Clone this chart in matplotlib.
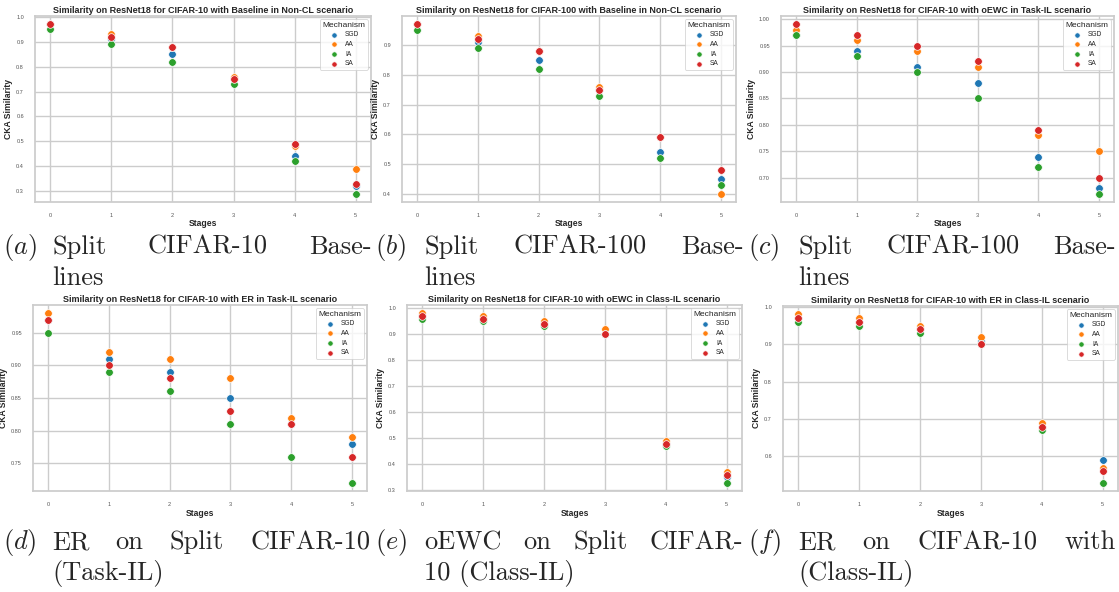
import matplotlib
matplotlib.use("Agg")
import matplotlib.pyplot as plt
import seaborn as sns

sns.set_theme(style="whitegrid")
plt.rcParams['font.family'] = ['Liberation Sans', 'DejaVu Sans']
plt.rcParams['mathtext.fontset'] = 'cm'

stages = [0, 1, 2, 3, 4, 5]
mechanisms = ["SGD", "AA", "IA", "SA"]
colors = ["#1f77b4", "#ff7f0e", "#2ca02c", "#d62728"]

# (a) CIFAR-10, baseline, Non-CL
a_sgd = [0.97, 0.91, 0.85, 0.75, 0.44, 0.32]
a_aa = [0.97, 0.93, 0.88, 0.76, 0.48, 0.39]
a_ia = [0.95, 0.89, 0.82, 0.73, 0.42, 0.29]
a_sa = [0.97, 0.92, 0.88, 0.75, 0.49, 0.33]

# (b) CIFAR-100, baseline, Non-CL
b_sgd = [0.97, 0.91, 0.85, 0.75, 0.54, 0.45]
b_aa = [0.97, 0.93, 0.88, 0.76, 0.59, 0.40]
b_ia = [0.95, 0.89, 0.82, 0.73, 0.52, 0.43]
b_sa = [0.97, 0.92, 0.88, 0.75, 0.59, 0.48]

# (c) CIFAR-10, oEWC, Task-IL
c_sgd = [0.97, 0.94, 0.91, 0.88, 0.74, 0.68]
c_aa = [0.98, 0.96, 0.94, 0.91, 0.78, 0.75]
c_ia = [0.97, 0.93, 0.90, 0.85, 0.72, 0.67]
c_sa = [0.99, 0.97, 0.95, 0.92, 0.79, 0.70]

# (d) CIFAR-10, ER, Task-IL
d_sgd = [0.97, 0.91, 0.89, 0.85, 0.81, 0.78]
d_aa = [0.98, 0.92, 0.91, 0.88, 0.82, 0.79]
d_ia = [0.95, 0.89, 0.86, 0.81, 0.76, 0.72]
d_sa = [0.97, 0.90, 0.88, 0.83, 0.81, 0.76]

# (e) CIFAR-10, oEWC, Class-IL
e_sgd = [0.97, 0.96, 0.94, 0.90, 0.48, 0.35]
e_aa = [0.98, 0.97, 0.95, 0.92, 0.49, 0.37]
e_ia = [0.96, 0.95, 0.93, 0.90, 0.47, 0.33]
e_sa = [0.97, 0.96, 0.94, 0.90, 0.48, 0.36]

# (f) CIFAR-10, ER, Class-IL
f_sgd = [0.97, 0.96, 0.94, 0.91, 0.68, 0.59]
f_aa = [0.98, 0.97, 0.95, 0.92, 0.69, 0.57]
f_ia = [0.96, 0.95, 0.93, 0.90, 0.67, 0.53]
f_sa = [0.97, 0.96, 0.94, 0.90, 0.68, 0.56]

titles = [
    "Similarity on ResNet18 for CIFAR-10 with Baseline in Non-CL scenario",
    "Similarity on ResNet18 for CIFAR-100 with Baseline in Non-CL scenario",
    "Similarity on ResNet18 for CIFAR-10 with oEWC in Task-IL scenario",
    "Similarity on ResNet18 for CIFAR-10 with ER in Task-IL scenario",
    "Similarity on ResNet18 for CIFAR-10 with oEWC in Class-IL scenario",
    "Similarity on ResNet18 for CIFAR-10 with ER in Class-IL scenario",
]
panels = [
    [a_sgd, a_aa, a_ia, a_sa],
    [b_sgd, b_aa, b_ia, b_sa],
    [c_sgd, c_aa, c_ia, c_sa],
    [d_sgd, d_aa, d_ia, d_sa],
    [e_sgd, e_aa, e_ia, e_sa],
    [f_sgd, f_aa, f_ia, f_sa],
]

W, H = 1119, 592
fig = plt.figure(figsize=(W / 100, H / 100), dpi=100)

# axes boxes in pixels: left, right, top, bottom
boxes = [
    (35, 371, 16, 202), (402, 736, 16, 202), (781, 1114, 16, 202),
    (33, 367, 305, 491), (407, 742, 305, 491), (783, 1118, 306, 491),
]

for (l, r, t, b), title, series in zip(boxes, titles, panels):
    ax = fig.add_axes([l / W, 1 - b / H, (r - l) / W, (b - t) / H])
    for name, col, vals in zip(mechanisms, colors, series):
        ax.scatter(stages, vals, s=30, color=col, edgecolor="white",
                   linewidth=0.5, label=name, zorder=3)
    ax.set_title(title, fontsize=6.5, fontweight="bold", pad=2, color="#262626")
    ax.set_xlabel("Stages", fontsize=6.2, fontweight="bold", labelpad=1)
    ax.set_ylabel("CKA Similarity", fontsize=6.2, fontweight="bold", labelpad=2.5)
    ax.set_xticks(stages)
    ax.tick_params(labelsize=4, pad=2, colors="#555555")
    leg = ax.legend(title="Mechanism", loc="upper right", fontsize=4.8,
                    title_fontsize=6, markerscale=0.7, handletextpad=0.9,
                    labelspacing=0.4, borderpad=0.35, handlelength=1.6,
                    frameon=True)
    leg.get_frame().set_linewidth(0.6)

# sub-captions, justified like LaTeX subfigure captions
capsize = 19
renderer = fig.canvas.get_renderer()


def put(word, x, y):
    return fig.text(x / W, 1 - y / H, word, fontsize=capsize, family="cmr10",
                    ha="left", va="baseline")


def justify(words, x0, x1, y):
    texts = [put(w, x0, y) for w in words]
    widths = [t.get_window_extent(renderer).width for t in texts]
    gap = (x1 - x0 - sum(widths)) / (len(words) - 1)
    x = x0
    for t, w in zip(texts, widths):
        t.set_x(x / W)
        x += w + gap


captions = [
    ("$(a)$", 3, ["Split", "CIFAR-10", "Base-"], 52, 372, "lines", 254),
    ("$(b)$", 375, ["Split", "CIFAR-100", "Base-"], 424, 744, "lines", 254),
    ("$(c)$", 748, ["Split", "CIFAR-100", "Base-"], 798, 1116, "lines", 254),
    ("$(d)$", 3, ["ER", "on", "Split", "CIFAR-10"], 52, 370, "(Task-IL)", 549),
    ("$(e)$", 375, ["oEWC", "on", "Split", "CIFAR-"], 424, 743, "10 (Class-IL)", 549),
    ("$(f)$", 748, ["ER", "on", "CIFAR-10", "with"], 798, 1116, "(Class-IL)", 549),
]
for lab, lx, words, x0, x1, second, y in captions:
    put(lab, lx, y)
    justify(words, x0, x1, y)
    put(second, x0, y + 31)

fig.savefig("out.png", dpi=100)
